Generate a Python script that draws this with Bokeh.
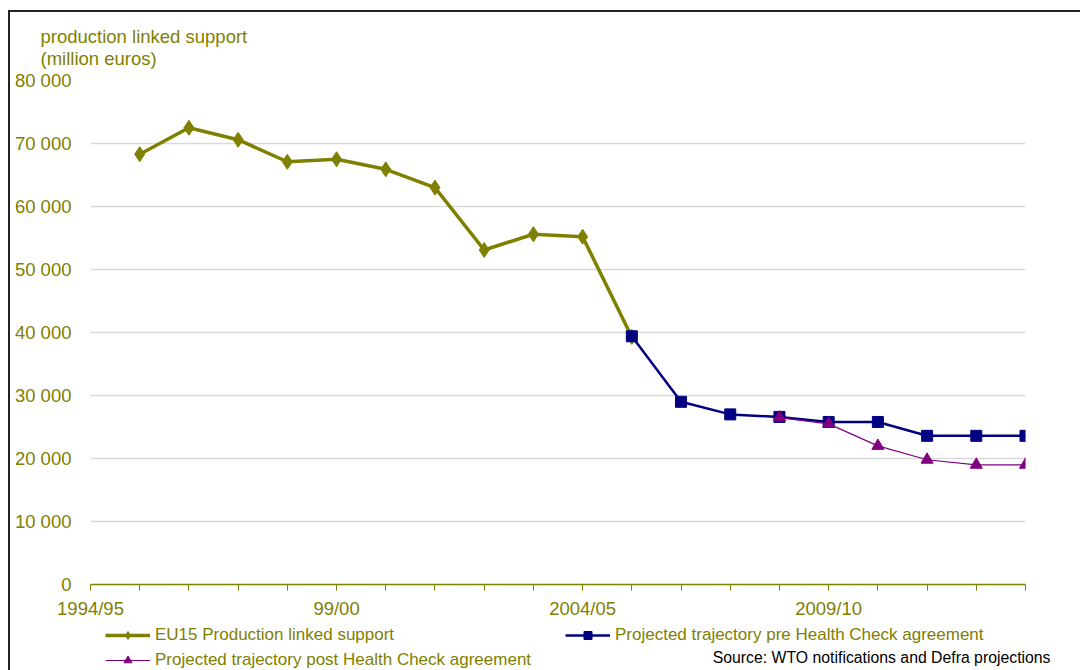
from bokeh.plotting import figure
from bokeh.layouts import column
from bokeh.models import FixedTicker, Legend, LegendItem, Label, ColumnDataSource
from bokeh.embed import file_html
from bokeh.resources import INLINE

categories = ["1994/95", "1995/96", "1996/97", "1997/98", "1998/99", "1999/00",
              "2000/01", "2001/02", "2002/03", "2003/04", "2004/05", "2005/06",
              "2006/07", "2007/08", "2008/09", "2009/10", "2010/11", "2011/12",
              "2012/13", "2013/14"]
x_tick_labels = {"1994/95": "1994/95", "1999/00": "99/00", "2004/05": "2004/05", "2009/10": "2009/10"}

eu15_years = ["1995/96", "1996/97", "1997/98", "1998/99", "1999/00", "2000/01",
              "2001/02", "2002/03", "2003/04", "2004/05", "2005/06"]
eu15_values = [68300, 72500, 70600, 67100, 67500, 65900, 63000, 53100, 55600, 55200, 39300]

pre_years = ["2005/06", "2006/07", "2007/08", "2008/09", "2009/10", "2010/11",
             "2011/12", "2012/13", "2013/14"]
pre_values = [39400, 29000, 27000, 26600, 25800, 25800, 23600, 23600, 23600]

post_years = ["2008/09", "2009/10", "2010/11", "2011/12", "2012/13", "2013/14"]
post_values = [26500, 25500, 22000, 19800, 19000, 19000]

y_ticks = [0, 10000, 20000, 30000, 40000, 50000, 60000, 70000, 80000]
y_tick_labels = ["0", "10 000", "20 000", "30 000", "40 000", "50 000", "60 000", "70 000", "80 000"]

series_names = ["EU15 Production linked support",
                "Projected trajectory pre Health Check agreement",
                "Projected trajectory post Health Check agreement"]
source_text = "Source: WTO notifications and Defra projections"
axis_title = ["production linked support", "(million euros)"]

OLIVE = "#808000"
NAVY = "#000080"
PURPLE = "#800080"
FONT = "Liberation Sans"

def idx(years):
    return [categories.index(y) for y in years]

src_eu = ColumnDataSource(dict(x=idx(eu15_years), y=eu15_values))
src_pre = ColumnDataSource(dict(x=idx(pre_years), y=pre_values))
src_post = ColumnDataSource(dict(x=idx(post_years), y=post_values))

styles_list = [
    (src_eu, OLIVE, 3.5, "diamond", 15),
    (src_pre, NAVY, 2.5, "square", 11),
    (src_post, PURPLE, 1.2, "triangle", 12),
]

def unaligned_strip(height):
    f = figure(width=1070, height=height, output_backend="svg", toolbar_location=None,
               x_range=(0, 1), y_range=(0, 1), x_axis_type=None, y_axis_type=None,
               min_border=0, outline_line_color=None)
    f.frame_align = False
    return f

# ---------------- axis title strip ----------------
p0 = unaligned_strip(57)
p0.add_layout(Label(x=30, y=33, x_units="screen", y_units="screen", text=axis_title[0],
                    text_font=FONT, text_font_size="18.5px", text_color=OLIVE,
                    text_baseline="middle"))
p0.add_layout(Label(x=30, y=11, x_units="screen", y_units="screen", text=axis_title[1],
                    text_font=FONT, text_font_size="18.5px", text_color=OLIVE,
                    text_baseline="middle"))

# ---------------- main chart ----------------
p = figure(width=1070, height=553, output_backend="svg", toolbar_location=None,
           x_range=(0, len(categories) - 1), y_range=(0, 80000),
           min_border_left=80, min_border_right=55, min_border_top=11, min_border_bottom=38,
           outline_line_color=None)

p.xaxis.ticker = FixedTicker(ticks=list(range(len(categories))))
p.xaxis.major_label_overrides = {i: x_tick_labels.get(c, "") for i, c in enumerate(categories)}
p.xaxis.axis_line_color = OLIVE
p.xaxis.axis_line_width = 1.5
p.xaxis.major_tick_line_color = OLIVE
p.xaxis.major_tick_in = 0
p.xaxis.major_tick_out = 6
p.xaxis.minor_tick_line_color = None
p.xaxis.major_label_text_color = OLIVE
p.xaxis.major_label_text_font = FONT
p.xaxis.major_label_text_font_size = "18.5px"
p.xaxis.major_label_standoff = 7

p.yaxis.ticker = FixedTicker(ticks=y_ticks)
p.yaxis.major_label_overrides = {t: l for t, l in zip(y_ticks, y_tick_labels)}
p.yaxis.axis_line_color = None
p.yaxis.major_tick_line_color = None
p.yaxis.minor_tick_line_color = None
p.yaxis.major_label_text_color = OLIVE
p.yaxis.major_label_text_font = FONT
p.yaxis.major_label_text_font_size = "18.5px"
p.yaxis.major_label_standoff = 13

p.xgrid.grid_line_color = None
p.ygrid.grid_line_color = "#d9d9d9"
p.ygrid.grid_line_width = 1.5

for src, col, lw, mk, sz in styles_list:
    p.line("x", "y", source=src, line_color=col, line_width=lw)
    p.scatter("x", "y", source=src, marker=mk, size=sz, fill_color=col, line_color=col)

# ---------------- legend strip ----------------
p2 = unaligned_strip(48)
rend = {}
for name, (src, col, lw, mk, sz) in zip(series_names, styles_list):
    r_l = p2.line("x", "y", source=src, line_color=col, line_width=lw)
    r_m = p2.scatter("x", "y", source=src, marker=mk, size=sz, fill_color=col, line_color=col)
    rend[name] = LegendItem(label=name, renderers=[r_l, r_m])

# column-major filling: column 1 = EU15, post ; column 2 = pre
legend = Legend(items=[rend[series_names[0]], rend[series_names[2]], rend[series_names[1]]],
                ncols=2, location=(95, 0), border_line_color=None,
                background_fill_alpha=0, padding=0, margin=0, spacing=5,
                glyph_width=45, glyph_height=20, label_height=20, label_width=405,
                label_standoff=5, label_text_font=FONT, label_text_font_size="17px",
                label_text_color=OLIVE)
p2.add_layout(legend, "center")

p2.add_layout(Label(x=1040, y=13, x_units="screen", y_units="screen",
                    text=source_text, text_font=FONT, text_font_size="15.8px",
                    text_color="#000000", text_baseline="middle", text_align="right"))

layout = column(p0, p, p2, styles={"margin-left": "8px", "margin-top": "10px",
                                   "border-left": "2px solid #222222",
                                   "border-top": "2px solid #222222"})

open("out.html", "w").write(file_html(layout, INLINE))
